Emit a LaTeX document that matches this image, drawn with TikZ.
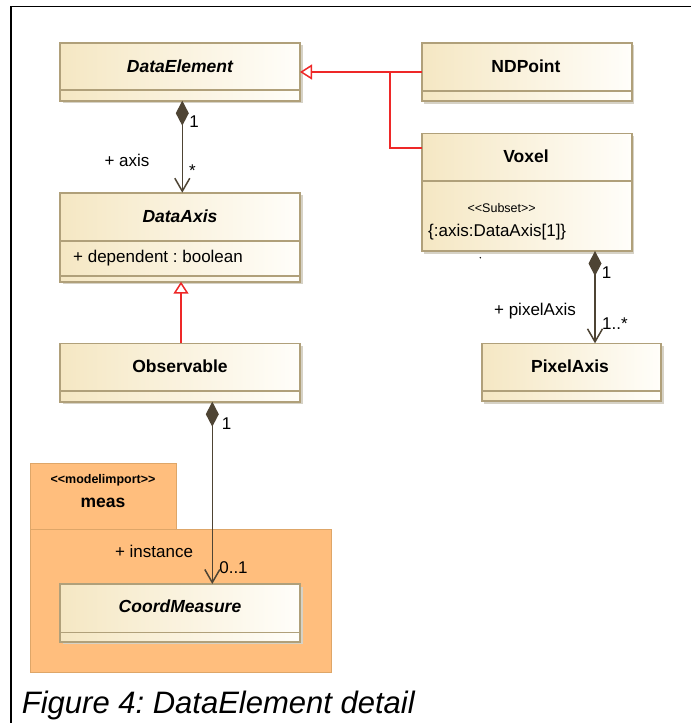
\documentclass[tikz,border=0pt]{standalone}
\usepackage{fontspec}
\setmainfont{Liberation Sans}
\usetikzlibrary{arrows.meta,calc,shadows}
\definecolor{clsleft}{RGB}{245,231,195}
\definecolor{clsright}{RGB}{255,254,250}
\definecolor{clsborder}{RGB}{176,160,122}
\definecolor{shadowc}{RGB}{214,210,198}
\definecolor{pkgfill}{RGB}{255,190,125}
\definecolor{pkgborder}{RGB}{222,166,104}
\definecolor{compc}{RGB}{78,68,52}
\definecolor{redc}{RGB}{238,40,40}
\tikzset{
  cls/.style={rectangle, draw=clsborder, line width=1.6pt, left color=clsleft, right color=clsright,
    anchor=north west, inner sep=0pt, outer sep=0pt,
    drop shadow={shadow xshift=2.5pt, shadow yshift=-2.5pt, fill=shadowc, opacity=1}},
  divl/.style={draw=clsborder, line width=1.6pt},
  pkg/.style={rectangle, draw=pkgborder, line width=1pt, fill=pkgfill, anchor=north west, inner sep=0pt, outer sep=0pt},
  tname/.style={font=\fontsize{17.5}{20}\selectfont\bfseries},
  aname/.style={font=\fontsize{17.5}{20}\selectfont\bfseries\itshape},
  lbl/.style={font=\fontsize{17}{20}\selectfont, inner sep=0pt},
  comp/.style={draw=compc, line width=1.5pt,
    {Diamond[length=25pt,width=13pt,fill=compc]}-{Straight Barb[length=13pt,width=15pt]}},
  gen/.style={draw=redc, line width=2pt, -{Triangle[open,length=12pt,width=15pt,line width=1.5pt]}},
  genl/.style={draw=redc, line width=2pt},
}
\begin{document}
\frenchspacing
\begin{tikzpicture}[x=1pt,y=-1pt]
\useasboundingbox (0,0) rectangle (691,723);
\fill[white] (0,0) rectangle (691,723);
% frame
\draw[line width=1.5pt] (11,723) -- (11,6.7) -- (691,6.7);

% package meas
\node[pkg, minimum width=146.7pt, minimum height=66pt] (pkgtab) at (30,463.3) {};
\node[pkg, minimum width=301.7pt, minimum height=143pt] (pkgbody) at (30,529.3) {};
\node[font=\fontsize{12.5}{14}\selectfont\bfseries, inner sep=0pt] (mi) at (103,480.5) {<\kern0pt<modelimport>\kern0pt>};
\node[tname, inner sep=0pt] (measl) at (103,503.3) {meas};

% classes
\node[cls, minimum width=240pt, minimum height=58pt] (de) at (60,42.7) {};
\draw[divl] ([yshift=-47.3pt]de.north west) -- ([yshift=-47.3pt]de.north east);
\node[aname] (den) at (180,66.4) {DataElement};

\node[cls, minimum width=240pt, minimum height=89pt] (da) at (60,192.7) {};
\draw[divl] ([yshift=-48pt]da.north west) -- ([yshift=-48pt]da.north east);
\draw[divl] ([yshift=-83.3pt]da.north west) -- ([yshift=-83.3pt]da.north east);
\node[aname] (dan) at (180,216.7) {DataAxis};
\node[lbl, anchor=west] (daattr) at (73,258.5) {+ dependent : boolean};

\node[cls, minimum width=210pt, minimum height=58.3pt] (nd) at (421.7,42.7) {};
\draw[divl] ([yshift=-48.3pt]nd.north west) -- ([yshift=-48.3pt]nd.north east);
\node[tname] (ndn) at (526,66) {NDPoint};

\node[cls, minimum width=210pt, minimum height=117.7pt] (vox) at (421.7,133.3) {};
\draw[divl] ([yshift=-47.4pt]vox.north west) -- ([yshift=-47.4pt]vox.north east);
\node[tname] (voxn) at (526,156.5) {Voxel};
\node[font=\fontsize{12.5}{14}\selectfont, inner sep=0pt] (subset) at (501.7,208.3) {<\kern0pt<Subset>\kern0pt>};
\node[lbl, anchor=west] (voxc) at (428,232.3) {\{:axis:DataAxis[1]\}};
\fill[black] (480.3,257.7) circle (0.8pt);

\node[cls, minimum width=179.3pt, minimum height=57.7pt] (pa) at (481.7,343.3) {};
\draw[divl] ([yshift=-47.7pt]pa.north west) -- ([yshift=-47.7pt]pa.north east);
\node[tname] (pan) at (570,366.5) {PixelAxis};

\node[cls, minimum width=240pt, minimum height=58.4pt] (obs) at (60,343.3) {};
\draw[divl] ([yshift=-47.7pt]obs.north west) -- ([yshift=-47.7pt]obs.north east);
\node[tname] (obsn) at (180,366.5) {Observable};

\node[cls, minimum width=240pt, minimum height=57.7pt] (cm) at (60,584) {};
\draw[divl] ([yshift=-48.3pt]cm.north west) -- ([yshift=-48.3pt]cm.north east);
\node[aname] (cmn) at (180,606.5) {CoordMeasure};

% generalizations
\coordinate (gy) at (0,72);
\coordinate (jn) at (390,72);
\draw[gen] (nd.west |- gy) -- (de.east |- gy);
\draw[genl] ([yshift=-14.7pt]vox.north west) -| (jn);
\coordinate (gx) at (181,0);
\draw[gen] (obs.north -| gx) -- (da.south -| gx);

% compositions
\coordinate (c1) at (182.3,0);
\draw[comp] (de.south -| c1) -- (da.north -| c1);
\node[lbl] (m1a) at (194,122) {1};
\node[lbl] (r1) at (127,160) {+ axis};
\node[lbl] (m1b) at (192.5,171) {*};

\coordinate (c2) at (595,0);
\draw[comp] (vox.south -| c2) -- (pa.north -| c2);
\node[lbl] (m2a) at (606.5,272.5) {1};
\node[lbl] (r2) at (535,311) {+ pixelAxis};
\node[lbl] (m2b) at (615,324) {1..*};

\coordinate (c3) at (212.3,0);
\draw[comp] (obs.south -| c3) -- (cm.north -| c3);
\node[lbl] (m3a) at (226.5,424) {1};
\node[lbl] (r3) at (154,551) {+ instance};
\node[lbl] (m3b) at (233.5,568) {0..1};

% caption
\node[font=\fontsize{31}{33}\selectfont\itshape, anchor=base west, inner sep=0pt] (cap) at (21.7,713.3) {Figure 4: DataElement detail};
\end{tikzpicture}
\end{document}
